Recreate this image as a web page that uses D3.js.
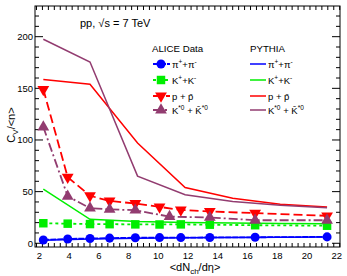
<!DOCTYPE html>
<html>
<head>
<meta charset="utf-8">
<script src="https://cdn.jsdelivr.net/npm/d3@7"></script>
<style>
  body { margin:0; background:#fff; }
  svg { font-family:"Liberation Sans", Arial, sans-serif; }
</style>
</head>
<body>
<svg id="chart" width="347" height="276"></svg>
<script>
// ALICE data (multiplicity classes)
var dataX = [2.26, 3.9, 5.4, 6.72, 8.45, 10.08, 11.51, 13.46, 16.51, 21.35];
var pion = [3.2, 4.2, 4.6, 5.0, 5.4, 5.5, 5.5, 5.6, 5.8, 6.2];
var kaon = [19.4, 19.0, 18.6, 18.5, 18.3, 18.2, 18.3, 18.0, 17.5, 17.0];
var proton = [149, 64, 46, 41, 38.5, 35.2, 32.3, 30.8, 29.2, 26.6];
var kstarX = [2.26, 3.9, 5.4, 6.72, 8.45, 10.75, 13.46, 16.51, 21.35];
var kstar = [112.5, 45.5, 34, 32.8, 32.0, 25.8, 25.0, 22.3, 22.3];

// PYTHIA
var pyX = [2.26, 5.4, 8.6, 11.8, 15.0, 18.2, 21.35];
var pyPion = [3.0, 4.2, 4.9, 5.3, 5.6, 5.9, 6.1];
var pyKaon = [52.5, 23.2, 21.0, 20.2, 19.6, 19.2, 19.0];
var pyProton = [158.6, 154, 97, 54, 43.5, 37.8, 35.2];
var pyKstar = [197.5, 175.5, 65, 47, 40.5, 36.8, 34.4];

var xTicks = [2, 4, 6, 8, 10, 12, 14, 16, 18, 20, 22];
var yTicks = [0, 50, 100, 150, 200];

var svg = d3.select("#chart");
var L = 35, R = 340, T = 6, B = 247;

var xScale = d3.scaleLinear().domain([1.7, 22.22]).range([L, R]);
var yScale = d3.scaleLinear().domain([-3.6, 229.7]).range([B, T]);

var blue = "#0000ff", green = "#00ee00", red = "#ff0000", purple = "#923c70";

// frame
svg.append("rect")
   .attr("x", L).attr("y", T)
   .attr("width", R - L).attr("height", B - T)
   .attr("fill", "none").attr("stroke", "#000").attr("stroke-width", 1);

// ticks (inside, all four sides, ROOT style)
var xMinor = d3.range(1.8, 22.21, 0.4);
var yMinor = d3.range(0, 229, 10);
var ticks = svg.append("g").attr("stroke", "#000").attr("stroke-width", 1);
xMinor.forEach(function(v){
  var big = xTicks.some(function(t){ return Math.abs(t - v) < 1e-6; });
  var len = big ? 8 : 4;
  ticks.append("line").attr("x1", xScale(v)).attr("x2", xScale(v)).attr("y1", B).attr("y2", B - len);
  ticks.append("line").attr("x1", xScale(v)).attr("x2", xScale(v)).attr("y1", T).attr("y2", T + len);
});
yMinor.forEach(function(v){
  var len = (v % 50 == 0) ? 8 : 4;
  ticks.append("line").attr("x1", L).attr("x2", L + len).attr("y1", yScale(v)).attr("y2", yScale(v));
  ticks.append("line").attr("x1", R).attr("x2", R - len).attr("y1", yScale(v)).attr("y2", yScale(v));
});

// tick labels
svg.append("g").selectAll("text").data(xTicks).enter().append("text")
   .attr("x", function(d){ return xScale(d); })
   .attr("y", 259)
   .attr("text-anchor", "middle")
   .attr("font-size", 9.5)
   .text(function(d){ return d; });
svg.append("g").selectAll("text").data(yTicks).enter().append("text")
   .attr("x", 33)
   .attr("y", function(d){ return yScale(d) + 3.5; })
   .attr("text-anchor", "end")
   .attr("font-size", 9.5)
   .text(function(d){ return d; });

// axis titles
var yt = svg.append("text")
   .attr("transform", "translate(15,125) rotate(-90)")
   .attr("text-anchor", "middle")
   .attr("font-size", 11);
yt.append("tspan").text("C");
yt.append("tspan").attr("font-size", 8).attr("dy", 3).text("V");
yt.append("tspan").attr("dy", -3).text("/<n>");

var xt = svg.append("text")
   .attr("x", 195).attr("y", 271)
   .attr("text-anchor", "middle")
   .attr("font-size", 11);
xt.append("tspan").text("<dN");
xt.append("tspan").attr("font-size", 8).attr("dy", 3).text("ch");
xt.append("tspan").attr("dy", -3).text("/dη>");

// PYTHIA lines
var line = d3.line()
   .x(function(d){ return xScale(d[0]); })
   .y(function(d){ return yScale(d[1]); });
var pySeries = [
  {vals: pyPion, color: blue},
  {vals: pyKaon, color: green},
  {vals: pyProton, color: red},
  {vals: pyKstar, color: purple}
];
pySeries.forEach(function(s){
  svg.append("path")
     .datum(d3.zip(pyX, s.vals))
     .attr("d", line)
     .attr("fill", "none")
     .attr("stroke", s.color)
     .attr("stroke-width", 1.5);
});

// marker shapes
var sym = {
  circle: d3.symbol().type(d3.symbolCircle).size(64),
  square: d3.symbol().type(d3.symbolSquare).size(72),
  tri: d3.symbol().type(d3.symbolTriangle).size(60)
};

function drawData(xs, ys, color, dash, shape, flip){
  svg.append("path")
     .datum(d3.zip(xs, ys))
     .attr("d", line)
     .attr("fill", "none")
     .attr("stroke", color)
     .attr("stroke-width", 1.8)
     .attr("stroke-dasharray", dash);
  svg.append("g").selectAll("path")
     .data(d3.zip(xs, ys))
     .enter()
     .append("path")
     .attr("d", sym[shape])
     .attr("fill", color)
     .attr("transform", function(d){
       return "translate(" + xScale(d[0]) + "," + yScale(d[1]) + ")" + (flip ? " rotate(180)" : "");
     });
}

drawData(dataX, pion, blue, "6,1", "circle", false);
drawData(dataX, kaon, green, "3,3", "square", false);
drawData(dataX, proton, red, "9,4", "tri", true);
drawData(kstarX, kstar, purple, "9,3,2,3", "tri", false);

// header
var hd = svg.append("text").attr("x", 80).attr("y", 27).attr("font-size", 11);
hd.append("tspan").text("pp, √s = 7 TeV");

// legends
var legData = [
  {label: ["π", "+", "+π", "-", ""], color: blue, dash: "6,1", shape: "circle", flip: false},
  {label: ["K", "+", "+K", "-", ""], color: green, dash: "3,3", shape: "square", flip: false},
  {label: ["p + p̄", "", "", "", ""], color: red, dash: "9,4", shape: "tri", flip: true},
  {label: ["K", "*0", " + K̄", "*0", ""], color: purple, dash: "9,3,2,3", shape: "tri", flip: false}
];
var legY = [64, 80, 96, 110];

svg.append("text").attr("x", 152).attr("y", 52).attr("font-size", 9.7).text("ALICE Data");
svg.append("text").attr("x", 250).attr("y", 52).attr("font-size", 9.7).text("PYTHIA");

function legLabel(x, y, parts){
  var t = svg.append("text").attr("x", x).attr("y", y + 3.5).attr("font-size", 9.5);
  t.append("tspan").text(parts[0]);
  if (parts[1]) t.append("tspan").attr("font-size", 6.5).attr("dy", -4).text(parts[1]);
  if (parts[2]) t.append("tspan").attr("font-size", 9.5).attr("dy", parts[1] ? 4 : 0).text(parts[2]);
  if (parts[3]) t.append("tspan").attr("font-size", 6.5).attr("dy", -4).text(parts[3]);
}

legData.forEach(function(d, i){
  var y = legY[i];
  svg.append("line")
     .attr("x1", 153).attr("x2", 170).attr("y1", y).attr("y2", y)
     .attr("stroke", d.color).attr("stroke-width", 1.8)
     .attr("stroke-dasharray", d.dash);
  svg.append("path")
     .attr("d", sym[d.shape])
     .attr("fill", d.color)
     .attr("transform", "translate(161," + y + ")" + (d.flip ? " rotate(180)" : ""));
  legLabel(172, y, d.label);

  svg.append("line")
     .attr("x1", 250).attr("x2", 266).attr("y1", y).attr("y2", y)
     .attr("stroke", d.color).attr("stroke-width", 1.5);
  legLabel(268, y, d.label);
});
</script>
</body>
</html>
